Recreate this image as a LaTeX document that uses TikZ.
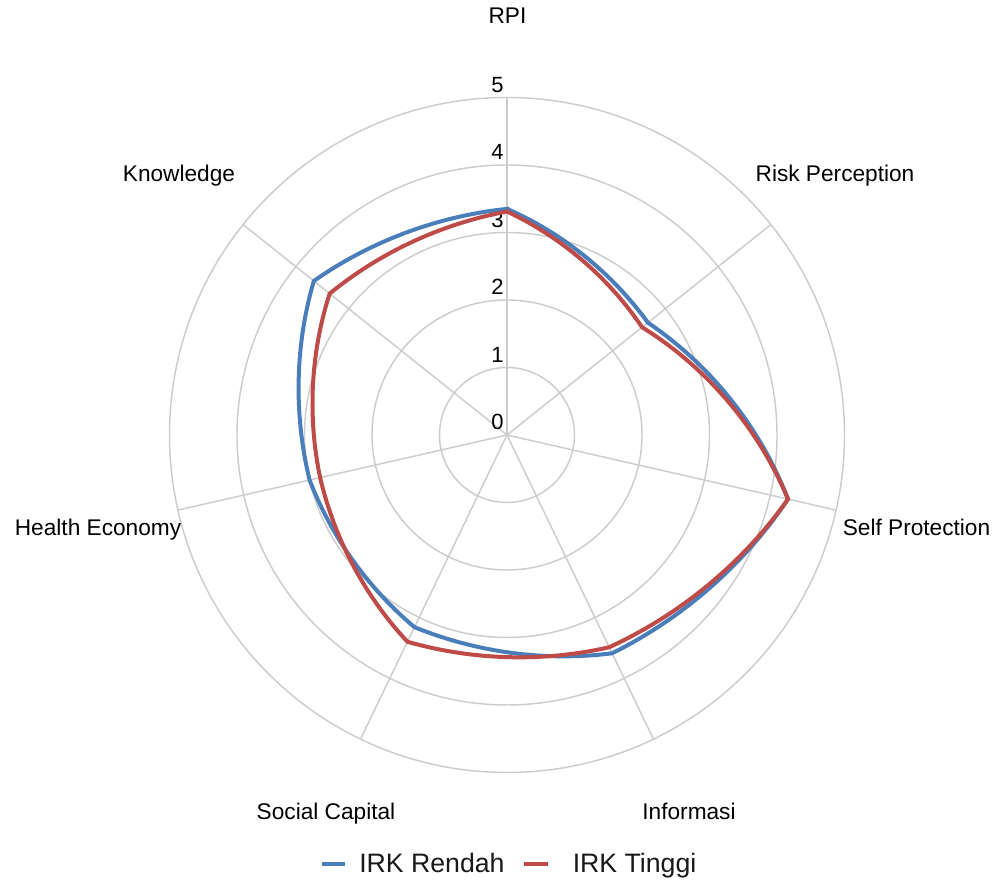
\documentclass[tikz,border=0pt]{standalone}
\usepackage{fontspec}
\setmainfont{Liberation Sans}
\definecolor{gridc}{HTML}{CCCCCC}
\definecolor{blueser}{HTML}{4A7EBB}
\definecolor{redser}{HTML}{BE4B48}
\begin{document}
\begin{tikzpicture}[x=0.75pt,y=0.75pt,
  gridline/.style={draw=gridc,line width=1.1pt},
  axlabel/.style={font=\fontsize{17}{19}\selectfont,text=black,inner sep=0pt,anchor=base},
  ticklabel/.style={font=\fontsize{16.5}{18}\selectfont,text=black,inner sep=0pt,anchor=base},
  series/.style={line width=3pt,line join=miter},
  legtext/.style={font=\fontsize{20}{22}\selectfont,text=black!90,inner sep=0pt,anchor=base west}]
\useasboundingbox (0,0) rectangle (1003,880);
\def\u{67.5}
\def\w{0.45}
\coordinate (c) at (507,445);
\begin{scope}[shift={(c)}]
  % rings
  \foreach \r in {1,...,5} {\draw[gridline] (0,0) circle ({\r*\u});}
  % axes
  \coordinate (o) at (0,0);
  \foreach \k in {0,...,6} {
    \coordinate (ax\k) at ({90-\k*360/7}:{5*\u});
    \draw[gridline] (o) -- (ax\k);
  }
  % tick labels
  \foreach \r in {0,...,5} {\node[ticklabel] (t\r) at (-9.5,{\r*\u+5}) {\r};}
  % series
  \draw[series,draw=blueser] (90:{3.35*\u})
    \foreach \a/\ra/\rb in {90/3.35/2.67, 38.5714/2.67/4.27, -12.8571/4.27/3.59, -64.2857/3.59/3.16, -115.7143/3.16/3.0, -167.1429/3.0/3.66, -218.5714/3.66/3.35}
    { -- plot[domain=0:1,samples=30] (
      {\u*((1-\w)*(\ra+(\rb-\ra)*\x)*cos(\a-51.4286*\x) + \w*((1-\x)*\ra*cos(\a)+\x*\rb*cos(\a-51.4286)))},
      {\u*((1-\w)*(\ra+(\rb-\ra)*\x)*sin(\a-51.4286*\x) + \w*((1-\x)*\ra*sin(\a)+\x*\rb*sin(\a-51.4286)))}) } -- cycle;
  \draw[series,draw=redser] (90:{3.31*\u})
    \foreach \a/\ra/\rb in {90/3.31/2.56, 38.5714/2.56/4.27, -12.8571/4.27/3.49, -64.2857/3.49/3.40, -115.7143/3.40/2.84, -167.1429/2.84/3.36, -218.5714/3.36/3.31}
    { -- plot[domain=0:1,samples=30] (
      {\u*((1-\w)*(\ra+(\rb-\ra)*\x)*cos(\a-51.4286*\x) + \w*((1-\x)*\ra*cos(\a)+\x*\rb*cos(\a-51.4286)))},
      {\u*((1-\w)*(\ra+(\rb-\ra)*\x)*sin(\a-51.4286*\x) + \w*((1-\x)*\ra*sin(\a)+\x*\rb*sin(\a-51.4286)))}) } -- cycle;
\end{scope}
% axis labels
\node[axlabel] (lrpi) at (507.5,856.7) {RPI};
\node[axlabel] (lrisk) at (835,698) {Risk Perception};
\node[axlabel] (lself) at (916.5,344.3) {Self Protection};
\node[axlabel] (linfo) at (689,60.5) {Informasi};
\node[axlabel] (lsoc) at (326,60.5) {Social Capital};
\node[axlabel] (lhe) at (98,344.3) {Health Economy};
\node[axlabel] (lkn) at (179,698) {Knowledge};
% legend
\coordinate (b1) at (322,16); \coordinate (b2) at (345,16);
\draw[blueser,line width=3.2pt] (b1) -- (b2);
\node[legtext] (lg1) at (359,7) {IRK Rendah};
\coordinate (r1) at (524,16); \coordinate (r2) at (548,16);
\draw[redser,line width=3.2pt] (r1) -- (r2);
\node[legtext] (lg2) at (572.5,7) {IRK Tinggi};
\end{tikzpicture}
\end{document}
